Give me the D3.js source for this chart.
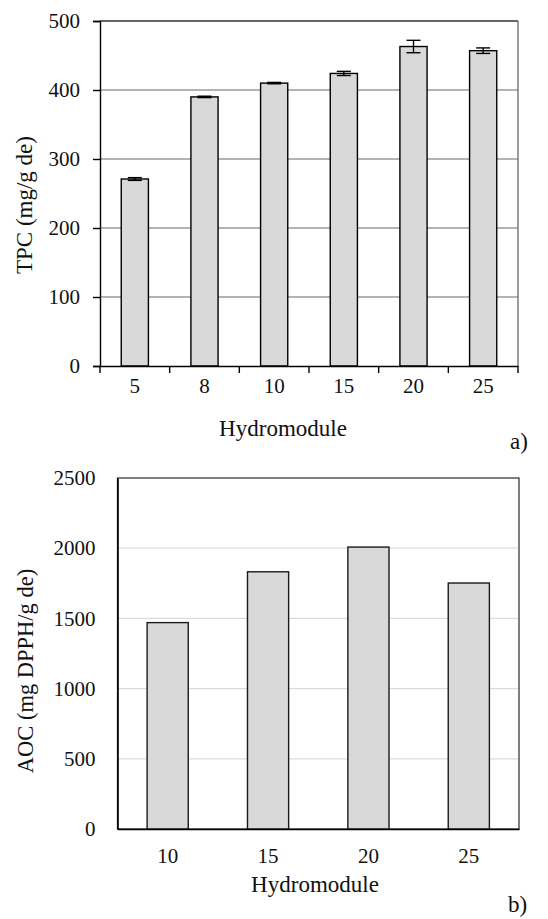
<!DOCTYPE html>
<html>
<head>
<meta charset="utf-8">
<script src="https://cdn.jsdelivr.net/npm/d3@7"></script>
<style>
  body { margin: 0; background: #fff; }
  svg text { font-family: "Liberation Serif", "Times New Roman", Tinos, "DejaVu Serif", serif; }
</style>
</head>
<body>
<svg id="chart" width="548" height="919"></svg>
<script>
// panel a) total phenolic content
var tpcCats = ["5", "8", "10", "15", "20", "25"];
var tpcVals = [271, 390, 410, 424, 463, 457];
var tpcErr  = [2, 1, 1, 3, 9, 4];
var tpcTicks = [0, 100, 200, 300, 400, 500];

// panel b) antioxidant capacity
var aocCats = ["10", "15", "20", "25"];
var aocVals = [1470, 1832, 2008, 1752];
var aocTicks = [0, 500, 1000, 1500, 2000, 2500];

var serif = "'Liberation Serif', 'Times New Roman', Tinos, 'DejaVu Serif', serif";
var svg = d3.select("#chart");

// ---------- a) ----------
var a = { left: 100, right: 518, top: 21, bottom: 366 };
var xa = d3.scaleBand().domain(tpcCats).range([a.left, a.right])
    .paddingInner(0.61).paddingOuter(0.305);
var ya = d3.scaleLinear().domain([0, 500]).range([a.bottom, a.top]);

var ga = svg.append("g");

// gridlines
ga.selectAll("line.grid").data(tpcTicks.slice(1, -1)).enter().append("line")
    .attr("x1", a.left).attr("x2", a.right)
    .attr("y1", d => ya(d)).attr("y2", d => ya(d))
    .attr("stroke", "#9a9a9a").attr("stroke-width", 1.3);

// frame top / right
ga.append("line").attr("x1", a.left).attr("x2", a.right)
    .attr("y1", ya(500)).attr("y2", ya(500))
    .attr("stroke", "#333").attr("stroke-width", 1.3);
ga.append("line").attr("x1", a.right).attr("x2", a.right)
    .attr("y1", a.top).attr("y2", a.bottom)
    .attr("stroke", "#666").attr("stroke-width", 1.3);

// bars
ga.selectAll("rect").data(tpcVals).enter().append("rect")
    .attr("x", (d, i) => xa(tpcCats[i]))
    .attr("y", d => ya(d))
    .attr("width", xa.bandwidth())
    .attr("height", d => ya(0) - ya(d))
    .attr("fill", "#d9d9d9").attr("stroke", "#000").attr("stroke-width", 1.4);

// error bars
var eb = ga.selectAll("g.err").data(tpcVals).enter().append("g");
eb.append("line")
    .attr("x1", (d, i) => xa(tpcCats[i]) + xa.bandwidth() / 2)
    .attr("x2", (d, i) => xa(tpcCats[i]) + xa.bandwidth() / 2)
    .attr("y1", (d, i) => ya(d + tpcErr[i])).attr("y2", (d, i) => ya(d - tpcErr[i]))
    .attr("stroke", "#000").attr("stroke-width", 1.4);
[1, -1].forEach(function (s) {
  eb.append("line")
    .attr("x1", (d, i) => xa(tpcCats[i]) + xa.bandwidth() / 2 - 7)
    .attr("x2", (d, i) => xa(tpcCats[i]) + xa.bandwidth() / 2 + 7)
    .attr("y1", (d, i) => ya(d + s * tpcErr[i])).attr("y2", (d, i) => ya(d + s * tpcErr[i]))
    .attr("stroke", "#000").attr("stroke-width", 1.4);
});

// axes
var yAxisA = d3.axisLeft(ya).tickValues(tpcTicks).tickFormat(d3.format("d"))
    .tickSize(7).tickPadding(13);
var yga = ga.append("g").attr("transform", "translate(" + a.left + ",0)").call(yAxisA);
var xAxisA = d3.axisBottom(xa).tickSize(0).tickPadding(12);
var xga = ga.append("g").attr("transform", "translate(0," + a.bottom + ")").call(xAxisA);

// x ticks at band boundaries
var bounds = tpcCats.map(c => xa(c) - xa.step() * xa.paddingInner() / 2);
bounds.push(a.right);
bounds[0] = a.left;
ga.selectAll("line.xt").data(bounds).enter().append("line")
    .attr("x1", d => d).attr("x2", d => d)
    .attr("y1", a.bottom).attr("y2", a.bottom + 7)
    .attr("stroke", "#000").attr("stroke-width", 1.4);

[yga, xga].forEach(function (g) {
  g.attr("font-family", serif);
  g.select(".domain").attr("stroke", "#000").attr("stroke-width", 1.4);
  g.selectAll(".tick line").attr("stroke", "#000").attr("stroke-width", 1.4);
  g.selectAll("text").attr("font-size", 21).attr("fill", "#111");
});

ga.append("text").attr("transform", "translate(32,205) rotate(-90)")
    .attr("text-anchor", "middle").attr("font-size", 23).attr("fill", "#111")
    .text("TPC (mg/g de)");
ga.append("text").attr("x", 283).attr("y", 436)
    .attr("text-anchor", "middle").attr("font-size", 23).attr("fill", "#111")
    .text("Hydromodule");
ga.append("text").attr("x", 510).attr("y", 449)
    .attr("font-size", 23).attr("fill", "#111").text("a)");

// ---------- b) ----------
var b = { left: 117.5, right: 519, top: 478, bottom: 829 };
var xb = d3.scaleBand().domain(aocCats).range([b.left, b.right])
    .paddingInner(0.59).paddingOuter(0.295);
var yb = d3.scaleLinear().domain([0, 2500]).range([b.bottom, b.top]);

var gb = svg.append("g");

gb.selectAll("line.grid").data(aocTicks.slice(1, -1)).enter().append("line")
    .attr("x1", b.left).attr("x2", b.right)
    .attr("y1", d => yb(d)).attr("y2", d => yb(d))
    .attr("stroke", "#dcdcdc").attr("stroke-width", 1.3);

gb.append("rect")
    .attr("x", b.left).attr("y", b.top)
    .attr("width", b.right - b.left).attr("height", b.bottom - b.top)
    .attr("fill", "none").attr("stroke", "#3a3a3a").attr("stroke-width", 1.3);

gb.selectAll("rect.bar").data(aocVals).enter().append("rect")
    .attr("x", (d, i) => xb(aocCats[i]))
    .attr("y", d => yb(d))
    .attr("width", xb.bandwidth())
    .attr("height", d => yb(0) - yb(d))
    .attr("fill", "#d9d9d9").attr("stroke", "#1a1a1a").attr("stroke-width", 1.4);

var ygb = gb.append("g").attr("transform", "translate(" + b.left + ",0)")
    .call(d3.axisLeft(yb).tickValues(aocTicks).tickFormat(d3.format("d"))
      .tickSize(0).tickPadding(22));
var xgb = gb.append("g").attr("transform", "translate(0," + b.bottom + ")")
    .call(d3.axisBottom(xb).tickSize(0).tickPadding(19));

[ygb, xgb].forEach(function (g) {
  g.attr("font-family", serif);
  g.select(".domain").attr("stroke", "#000").attr("stroke-width", 1.6);
  g.selectAll("text").attr("font-size", 21).attr("fill", "#111");
});

gb.append("text").attr("transform", "translate(33,671) rotate(-90)")
    .attr("text-anchor", "middle").attr("font-size", 22.5).attr("fill", "#111")
    .text("AOC (mg DPPH/g de)");
gb.append("text").attr("x", 315).attr("y", 892)
    .attr("text-anchor", "middle").attr("font-size", 23).attr("fill", "#111")
    .text("Hydromodule");
gb.append("text").attr("x", 508).attr("y", 912)
    .attr("font-size", 23).attr("fill", "#111").text("b)");
</script>
</body>
</html>
